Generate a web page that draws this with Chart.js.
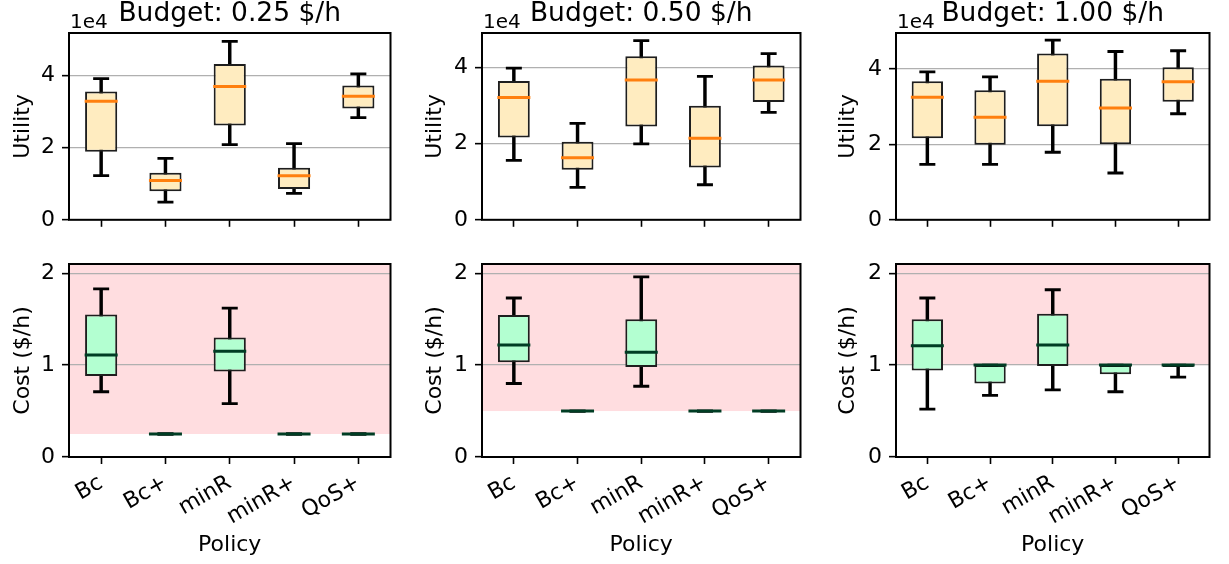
<!DOCTYPE html>
<html>
<head>
<meta charset="utf-8">
<title>Utility and cost per policy</title>
<script src="https://cdn.jsdelivr.net/npm/chart.js@4.4.0/dist/chart.umd.min.js"></script>
<style>
  body { margin: 0; background: #fff; }
  #wrap { position: relative; width: 1229px; height: 564px; overflow: hidden; }
  #wrap canvas { position: absolute; }
</style>
</head>
<body>
<div id="wrap">
  <canvas id="util1"></canvas>
  <canvas id="util2"></canvas>
  <canvas id="util3"></canvas>
  <canvas id="cost1"></canvas>
  <canvas id="cost2"></canvas>
  <canvas id="cost3"></canvas>
</div>
<script>
// Categories and panels
const policies = ['Bc', 'Bc+', 'minR', 'minR+', 'QoS+'];
const budgets = [0.25, 0.50, 1.00];
const budgetTitles = ['Budget: 0.25 $/h', 'Budget: 0.50 $/h', 'Budget: 1.00 $/h'];

// Box stats per policy: [whisker low, q1, median, q3, whisker high]
const utilityB025 = [
  [12200, 18800, 32800, 35500, 39100],
  [4900, 7900, 10900, 13000, 17000],
  [20800, 26100, 36900, 43100, 49400],
  [7300, 8500, 12200, 14400, 21100],
  [28300, 30800, 34200, 37200, 40400]
];
const utilityB050 = [
  [15600, 21600, 32100, 36400, 39800],
  [8500, 13100, 16300, 20500, 25300],
  [19900, 24500, 36700, 42900, 47000],
  [9200, 13700, 21400, 29900, 37600],
  [28200, 30900, 36700, 40500, 43600]
];
const utilityB100 = [
  [14700, 21600, 32500, 36700, 39200],
  [14700, 19900, 27200, 34300, 37900],
  [17900, 24800, 36700, 44100, 47600],
  [12400, 20000, 29600, 37400, 44600],
  [28100, 31300, 36600, 40400, 44800]
];
const costB025 = [
  [0.71, 0.88, 1.11, 1.55, 1.83],
  [0.25, 0.25, 0.25, 0.25, 0.25],
  [0.58, 0.93, 1.15, 1.30, 1.62],
  [0.25, 0.25, 0.25, 0.25, 0.25],
  [0.25, 0.25, 0.25, 0.25, 0.25]
];
const costB050 = [
  [0.80, 1.03, 1.22, 1.545, 1.73],
  [0.50, 0.50, 0.50, 0.50, 0.50],
  [0.77, 0.98, 1.14, 1.50, 1.96],
  [0.50, 0.50, 0.50, 0.50, 0.50],
  [0.50, 0.50, 0.50, 0.50, 0.50]
];
const costB100 = [
  [0.52, 0.94, 1.21, 1.50, 1.73],
  [0.67, 0.80, 1.00, 1.00, 1.00],
  [0.73, 0.99, 1.22, 1.56, 1.82],
  [0.71, 0.90, 1.00, 1.00, 1.00],
  [0.87, 0.98, 1.00, 1.00, 1.00]
];

// Axis limits and ticks
const utilityMax = [51700, 49000, 49500];
const utilityTicks = [0, 20000, 40000];
const costMax = 2.1;
const costTicks = [0, 1, 2];

Chart.defaults.font.family = "'DejaVu Sans', sans-serif";
Chart.defaults.font.size = 22;
Chart.defaults.color = '#000';

// panel placement (left edge, width, y-axis width, right padding, y-title padding)
const cols = [
  { left: 0, width: 410, yw: 69, pr: 11, tp: 10 },
  { left: 410, width: 410, yw: 72, pr: 11, tp: 12 },
  { left: 820, width: 409, yw: 76, pr: 3, tp: 15 }
];

// frame, budget span, titles
const panelDecor = {
  id: 'panelDecor',
  beforeDraw(chart, args, opts) {
    if (opts.budget == null) return;
    const { ctx, chartArea } = chart;
    const y = chart.scales.y.getPixelForValue(opts.budget);
    ctx.save();
    ctx.fillStyle = '#ffdde0';
    ctx.fillRect(chartArea.left, chartArea.top, chartArea.right - chartArea.left, y - chartArea.top);
    ctx.restore();
  },
  afterDraw(chart, args, opts) {
    const { ctx, chartArea } = chart;
    ctx.save();
    ctx.strokeStyle = '#000';
    ctx.lineWidth = 2;
    ctx.strokeRect(chartArea.left, chartArea.top, chartArea.right - chartArea.left, chartArea.bottom - chartArea.top);
    ctx.fillStyle = '#000';
    if (opts.title) {
      ctx.font = "26.5px 'DejaVu Sans'";
      ctx.textAlign = 'center';
      ctx.textBaseline = 'alphabetic';
      ctx.fillText(opts.title, (chartArea.left + chartArea.right) / 2, 21);
    }
    if (opts.offsetText) {
      ctx.font = "20px 'DejaVu Sans'";
      ctx.textAlign = 'left';
      ctx.textBaseline = 'alphabetic';
      ctx.fillText(opts.offsetText, chartArea.left + 1, 28);
    }
    ctx.restore();
  }
};

function makePanel(id, col, stats, opt) {
  const cv = document.getElementById(id);
  const h = opt.bottomRow ? 324 : 240;
  cv.width = col.width;
  cv.height = h;
  cv.style.left = col.left + 'px';
  cv.style.top = (opt.bottomRow ? 240 : 0) + 'px';

  const lows = stats.map(s => s[0]);
  const boxes = stats.map(s => [s[1], s[3]]);
  const medians = stats.map(s => s[2]);
  const highs = stats.map(s => s[4]);
  const whiskers = stats.map(s => [s[0], s[4]]);

  const capStyle = {
    type: 'line', showLine: false, pointStyle: 'line', pointRadius: 8,
    pointBorderWidth: 2.8, pointBorderColor: '#000', pointBackgroundColor: '#000', order: 2
  };

  return new Chart(cv, {
    type: 'bar',
    data: {
      labels: policies,
      datasets: [
        { data: whiskers, backgroundColor: '#000', barThickness: 2.8, grouped: false, order: 5 },
        { data: boxes, backgroundColor: opt.boxColor, borderColor: '#1e1e1e', borderWidth: 2,
          borderSkipped: false, barPercentage: 0.5, categoryPercentage: 1, grouped: false, order: 4 },
        Object.assign({ data: lows }, capStyle),
        Object.assign({ data: highs }, capStyle),
        { type: 'line', data: medians, showLine: false, pointStyle: 'line', pointRadius: 16.5,
          pointBorderWidth: 3, pointBorderColor: opt.medianColor, order: 1 }
      ]
    },
    options: {
      responsive: false,
      animation: false,
      events: [],
      layout: { padding: { top: opt.bottomRow ? 24 : 33, right: col.pr, left: 0, bottom: 0 } },
      plugins: {
        legend: { display: false },
        tooltip: { enabled: false },
        panelDecor: { title: opt.title, offsetText: opt.offsetText, budget: opt.budget }
      },
      scales: {
        x: {
          offset: true,
          border: { display: false },
          grid: { display: true, drawOnChartArea: false, offset: false, tickLength: 7,
                  tickColor: '#000', tickWidth: 1.6 },
          ticks: { display: !!opt.bottomRow, autoSkip: false, minRotation: 30, maxRotation: 30, padding: 6 },
          title: { display: !!opt.bottomRow, text: 'Policy', padding: { bottom: 6 } },
          afterFit(scale) { scale.height = opt.bottomRow ? 107 : 13; }
        },
        y: {
          min: 0,
          max: opt.max,
          border: { display: false },
          grid: { color: '#b0b0b0', lineWidth: 1.3, tickLength: 7, tickColor: '#000', tickWidth: 1.6 },
          ticks: { padding: 7, callback: v => opt.scaleDiv ? v / opt.scaleDiv : v },
          afterBuildTicks(scale) { scale.ticks = opt.tickValues.map(v => ({ value: v })); },
          title: { display: true, text: opt.yTitle, padding: { top: col.tp } },
          afterFit(scale) { scale.width = col.yw; }
        }
      }
    },
    plugins: [panelDecor]
  });
}

const utilSets = [utilityB025, utilityB050, utilityB100];
const costSets = [costB025, costB050, costB100];

cols.forEach((col, i) => {
  makePanel('util' + (i + 1), col, utilSets[i], {
    boxColor: '#ffecc0', medianColor: '#ff7f0e', max: utilityMax[i], tickValues: utilityTicks,
    scaleDiv: 10000, yTitle: 'Utility', title: budgetTitles[i], offsetText: '1e4'
  });
  makePanel('cost' + (i + 1), col, costSets[i], {
    bottomRow: true, boxColor: '#b3ffd1', medianColor: '#003d24', max: costMax, tickValues: costTicks,
    yTitle: 'Cost ($/h)', budget: budgets[i]
  });
});
</script>
</body>
</html>
